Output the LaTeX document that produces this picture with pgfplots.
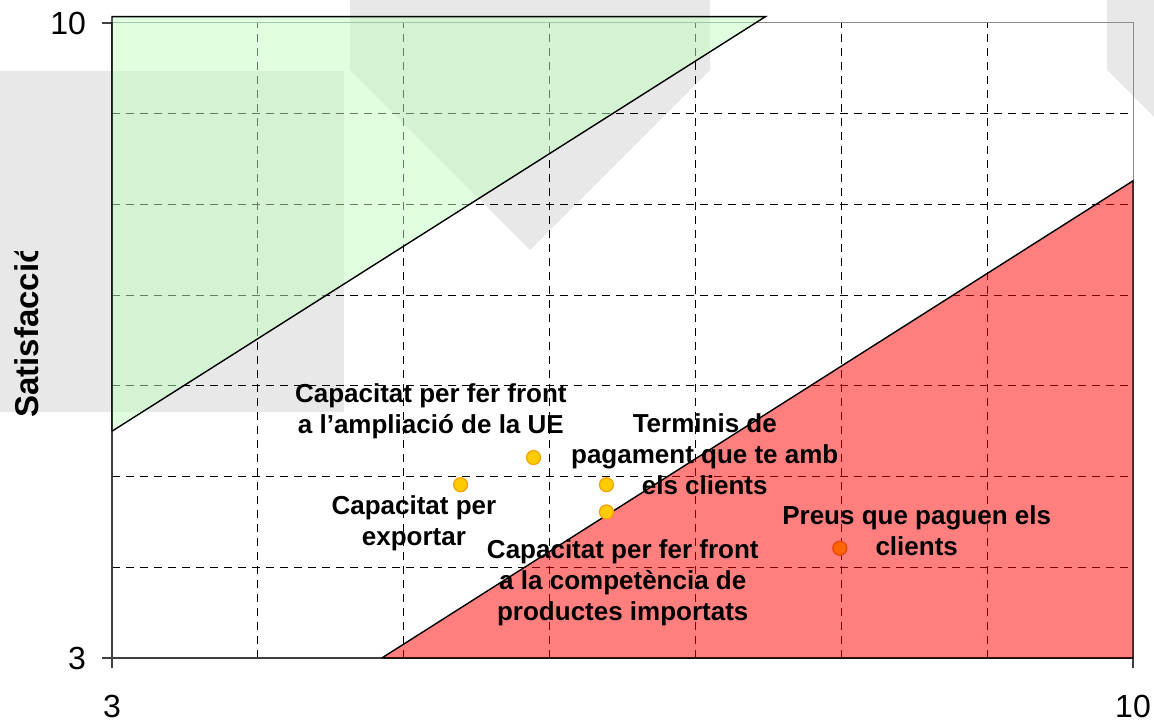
\documentclass[border=0pt]{standalone}
\usepackage{fontspec}
\setmainfont{Liberation Sans}
\usepackage{pgfplots}
\pgfplotsset{compat=1.18}

\definecolor{wm}{HTML}{E8E8E8}
\definecolor{zonegreen}{HTML}{C0FFC0}
\definecolor{dotfill}{HTML}{FFCC00}
\definecolor{dotedge}{HTML}{F5A000}
\definecolor{hotfill}{HTML}{FF6600}
\definecolor{hotedge}{HTML}{F04000}

\begin{document}
\begin{tikzpicture}
\useasboundingbox (-56pt,-32pt) rectangle (521pt,329pt);
% faint background shapes
\fill[wm] (-56pt,123pt) rectangle (116pt,293.5pt);
\fill[wm] (119pt,329pt) -- (299pt,329pt) -- (299pt,294pt) -- (209pt,204pt) -- (119pt,294pt) -- cycle;
\fill[wm] (497.5pt,329pt) -- (521pt,329pt) -- (521pt,270.5pt) -- (497.5pt,294pt) -- cycle;

\begin{axis}[
  scale only axis, width=510.5pt, height=317.5pt,
  xmin=3, xmax=10, ymin=3, ymax=10,
  axis x line=bottom, axis y line=left,
  axis line style={-, draw=black!75, line width=0.7pt},
  xtick={3,10}, ytick={3,10},
  minor xtick={4,...,9}, minor ytick={4,...,9},
  grid=minor,
  minor grid style={black, line width=0.5pt, dash pattern=on 4pt off 3pt},
  tick align=outside, major tick length=5pt, minor tick length=0pt,
  tick style={black!75, line width=0.6pt},
  ticklabel style={font=\fontsize{16}{19}\selectfont},
  /pgf/number format/assume math mode=true,
  xticklabel style={yshift=-10pt},
  yticklabel style={xshift=-4.5pt},
  clip=false,
]
\draw[black!45, line width=0.5pt] (rel axis cs:0,1) -- (rel axis cs:1,1) -- (rel axis cs:1,0);

% zones
\addplot[draw=black, line width=0.7pt, fill=zonegreen, fill opacity=0.5]
  coordinates {(3,5.5) (7.48,10.07) (3,10.07) (3,5.5)};
\addplot[draw=black, line width=0.7pt, fill=red, fill opacity=0.5]
  coordinates {(4.85,3) (10,8.26) (10,3) (4.85,3)};

% points
\addplot[only marks, mark=*, mark size=3.5pt,
  mark options={fill=dotfill, draw=dotedge, line width=0.6pt}]
  coordinates {(5.39,4.91) (5.89,5.21) (6.39,4.91) (6.39,4.61)};
\addplot[only marks, mark=*, mark size=3.5pt,
  mark options={fill=hotfill, draw=hotedge, line width=0.6pt}]
  coordinates {(7.99,4.21)};

\begin{scope}[every node/.style={anchor=north, inner sep=0pt, align=center,
    font=\bfseries\fontsize{13}{15.5}\selectfont}]
\node at (axis cs:5.186,6.032) {Capacitat per fer front\\a l’ampliació de la UE};
\node at (axis cs:5.070,4.797) {Capacitat per\\exportar};
\node at (axis cs:7.064,5.701) {Terminis de\\pagament que te amb\\els clients};
\node at (axis cs:6.502,4.312) {Capacitat per fer front\\a la competència de\\productes importats};
\node at (axis cs:8.517,4.687) {Preus que paguen els\\clients};
\end{scope}
\end{axis}

\begin{scope}
\clip (-56pt,0pt) rectangle (0pt,203pt);
\node[rotate=90, anchor=base west, inner sep=0pt,
  font=\bfseries\fontsize{16.5}{20}\selectfont] at (-36.5pt,120pt) {Satisfacció};
\end{scope}
\end{tikzpicture}
\end{document}
